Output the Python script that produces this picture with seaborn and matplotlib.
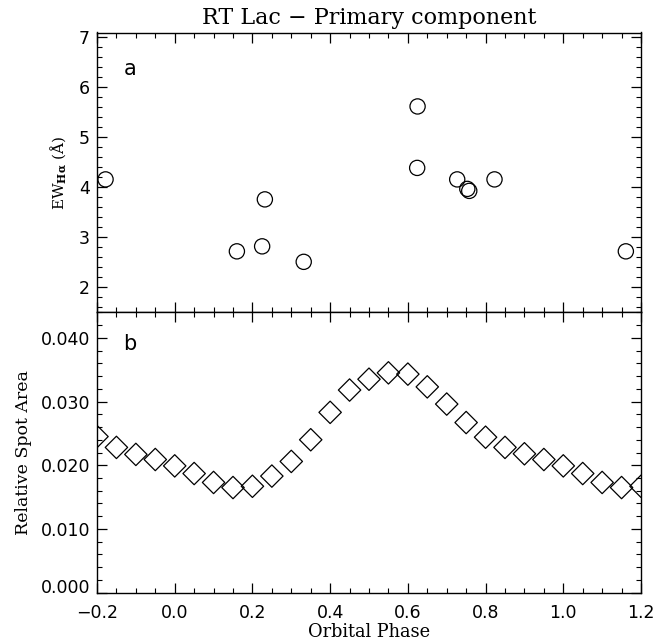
import numpy as np
import pandas as pd
import seaborn as sns
import matplotlib
matplotlib.use("Agg")
import matplotlib.pyplot as plt
import matplotlib.transforms as mtransforms
from matplotlib.ticker import MultipleLocator, FixedLocator

# ---- data ----
ew_phase = [-0.178, 0.160, 0.225, 0.232, 0.332, 0.625, 0.624, 0.727, 0.753, 0.758, 0.823, 1.161]
ew_value = [4.16, 2.72, 2.82, 3.76, 2.51, 5.62, 4.39, 4.16, 3.97, 3.93, 4.16, 2.72]

spot_phase = [-0.20, -0.15, -0.10, -0.05, 0.00, 0.05, 0.10, 0.15, 0.20, 0.25,
              0.30, 0.35, 0.40, 0.45, 0.50, 0.55, 0.60, 0.65, 0.70, 0.75,
              0.80, 0.85, 0.90, 0.95, 1.00, 1.05, 1.10, 1.15, 1.20]
spot_area = [0.0245, 0.0228, 0.0217, 0.0209, 0.0199, 0.0187, 0.0173, 0.0165, 0.0167, 0.0183,
             0.0206, 0.0240, 0.0283, 0.0318, 0.0335, 0.0345, 0.0343, 0.0323, 0.0296, 0.0267,
             0.0244, 0.0228, 0.0218, 0.0209, 0.0199, 0.0187, 0.0173, 0.0165, 0.0167]

xticks = [-0.2, 0.0, 0.2, 0.4, 0.6, 0.8, 1.0, 1.2]
xticklabels = ["\u22120.2", "0.0", "0.2", "0.4", "0.6", "0.8", "1.0", "1.2"]
ew_ticks = [2, 3, 4, 5, 6, 7]
spot_ticks = [0.000, 0.010, 0.020, 0.030, 0.040]
spot_ticklabels = ["0.000", "0.010", "0.020", "0.030", "0.040"]

title = "RT Lac \u2212 Primary component"
xlabel = "Orbital Phase"
ylabel_top = r"EW$_{\mathbf{H\alpha}}$ (Å)"
ylabel_bot = "Relative Spot Area"

df_ew = pd.DataFrame({"phase": ew_phase, "ew": ew_value})
df_spot = pd.DataFrame({"phase": spot_phase, "area": spot_area})

sns.set_theme(style="ticks")
plt.rcParams["font.family"] = ["DejaVu Serif", "DejaVu Sans"]
plt.rcParams["mathtext.fontset"] = "dejavuserif"
plt.rcParams["text.color"] = "black"
plt.rcParams["axes.labelcolor"] = "black"
plt.rcParams["xtick.color"] = "black"
plt.rcParams["ytick.color"] = "black"
plt.rcParams["xtick.labelcolor"] = "black"
plt.rcParams["ytick.labelcolor"] = "black"

fig = plt.figure(figsize=(6.66, 6.44), dpi=100)
L, R = 97 / 666, 641 / 666
top_y, mid_y, bot_y = 1 - 32.5 / 644, 1 - 312.3 / 644, 1 - 592.7 / 644
ax1 = fig.add_axes([L, mid_y, R - L, top_y - mid_y])
ax2 = fig.add_axes([L, bot_y, R - L, mid_y - bot_y])

sns.scatterplot(data=df_ew, x="phase", y="ew", ax=ax1, marker="o", s=120,
                facecolors="none", edgecolor="black", linewidth=0.9, legend=False)
sns.scatterplot(data=df_spot, x="phase", y="area", ax=ax2, marker="D", s=130,
                facecolors="none", edgecolor="black", linewidth=0.9, legend=False)

tick_font = {"family": "DejaVu Sans", "size": 12.5, "color": "black"}

for ax in (ax1, ax2):
    ax.set_xlim(-0.2, 1.2)
    ax.xaxis.set_major_locator(FixedLocator(xticks))
    ax.xaxis.set_minor_locator(MultipleLocator(0.05))
    ax.tick_params(axis="both", which="both", direction="in", top=True, right=True,
                   color="black")
    ax.tick_params(which="major", length=7, width=0.9)
    ax.tick_params(which="minor", length=3.5, width=0.8)
    ax.tick_params(axis="y", which="major", pad=5)
    ax.tick_params(axis="x", which="major", pad=8)
    for s in ax.spines.values():
        s.set_linewidth(1.0)
        s.set_color("black")

ax1.set_ylim(1.5, 7.1)
ax1.yaxis.set_major_locator(FixedLocator(ew_ticks))
ax1.yaxis.set_minor_locator(MultipleLocator(0.2))
ax1.set_xticklabels([])
ax1.set_yticks(ew_ticks)
ax1.set_yticklabels([str(t) for t in ew_ticks], fontdict=tick_font)
ax1.set_xlabel("")
ax1.set_ylabel(ylabel_top, fontsize=11, labelpad=7)
ax1.set_title(title, fontsize=16, pad=6, color="black")
ax1.text(-0.115, 6.37, "a", fontsize=15, family="DejaVu Sans", va="center", ha="center")

ax2.set_ylim(0.0, 0.044)
ax2.set_yticks(spot_ticks)
ax2.set_yticklabels(spot_ticklabels, fontdict=tick_font)
ax2.yaxis.set_minor_locator(MultipleLocator(0.002))
ax2.set_xticks(xticks)
ax2.set_xticklabels(xticklabels, fontdict=tick_font)
ax2.set_xlabel(xlabel, fontsize=12.8, labelpad=1)
ax2.set_ylabel(ylabel_bot, fontsize=12.5, labelpad=6)
ax2.text(-0.115, 0.0391, "b", fontsize=15, family="DejaVu Sans", va="center", ha="center")

# nudge the lowest label of the spot-area axis upward, as in the reference
lbl0 = ax2.get_yticklabels()[0]
lbl0.set_transform(lbl0.get_transform() + mtransforms.ScaledTranslation(0, 5 / 72, fig.dpi_scale_trans))

fig.savefig("out.png", dpi=100)
